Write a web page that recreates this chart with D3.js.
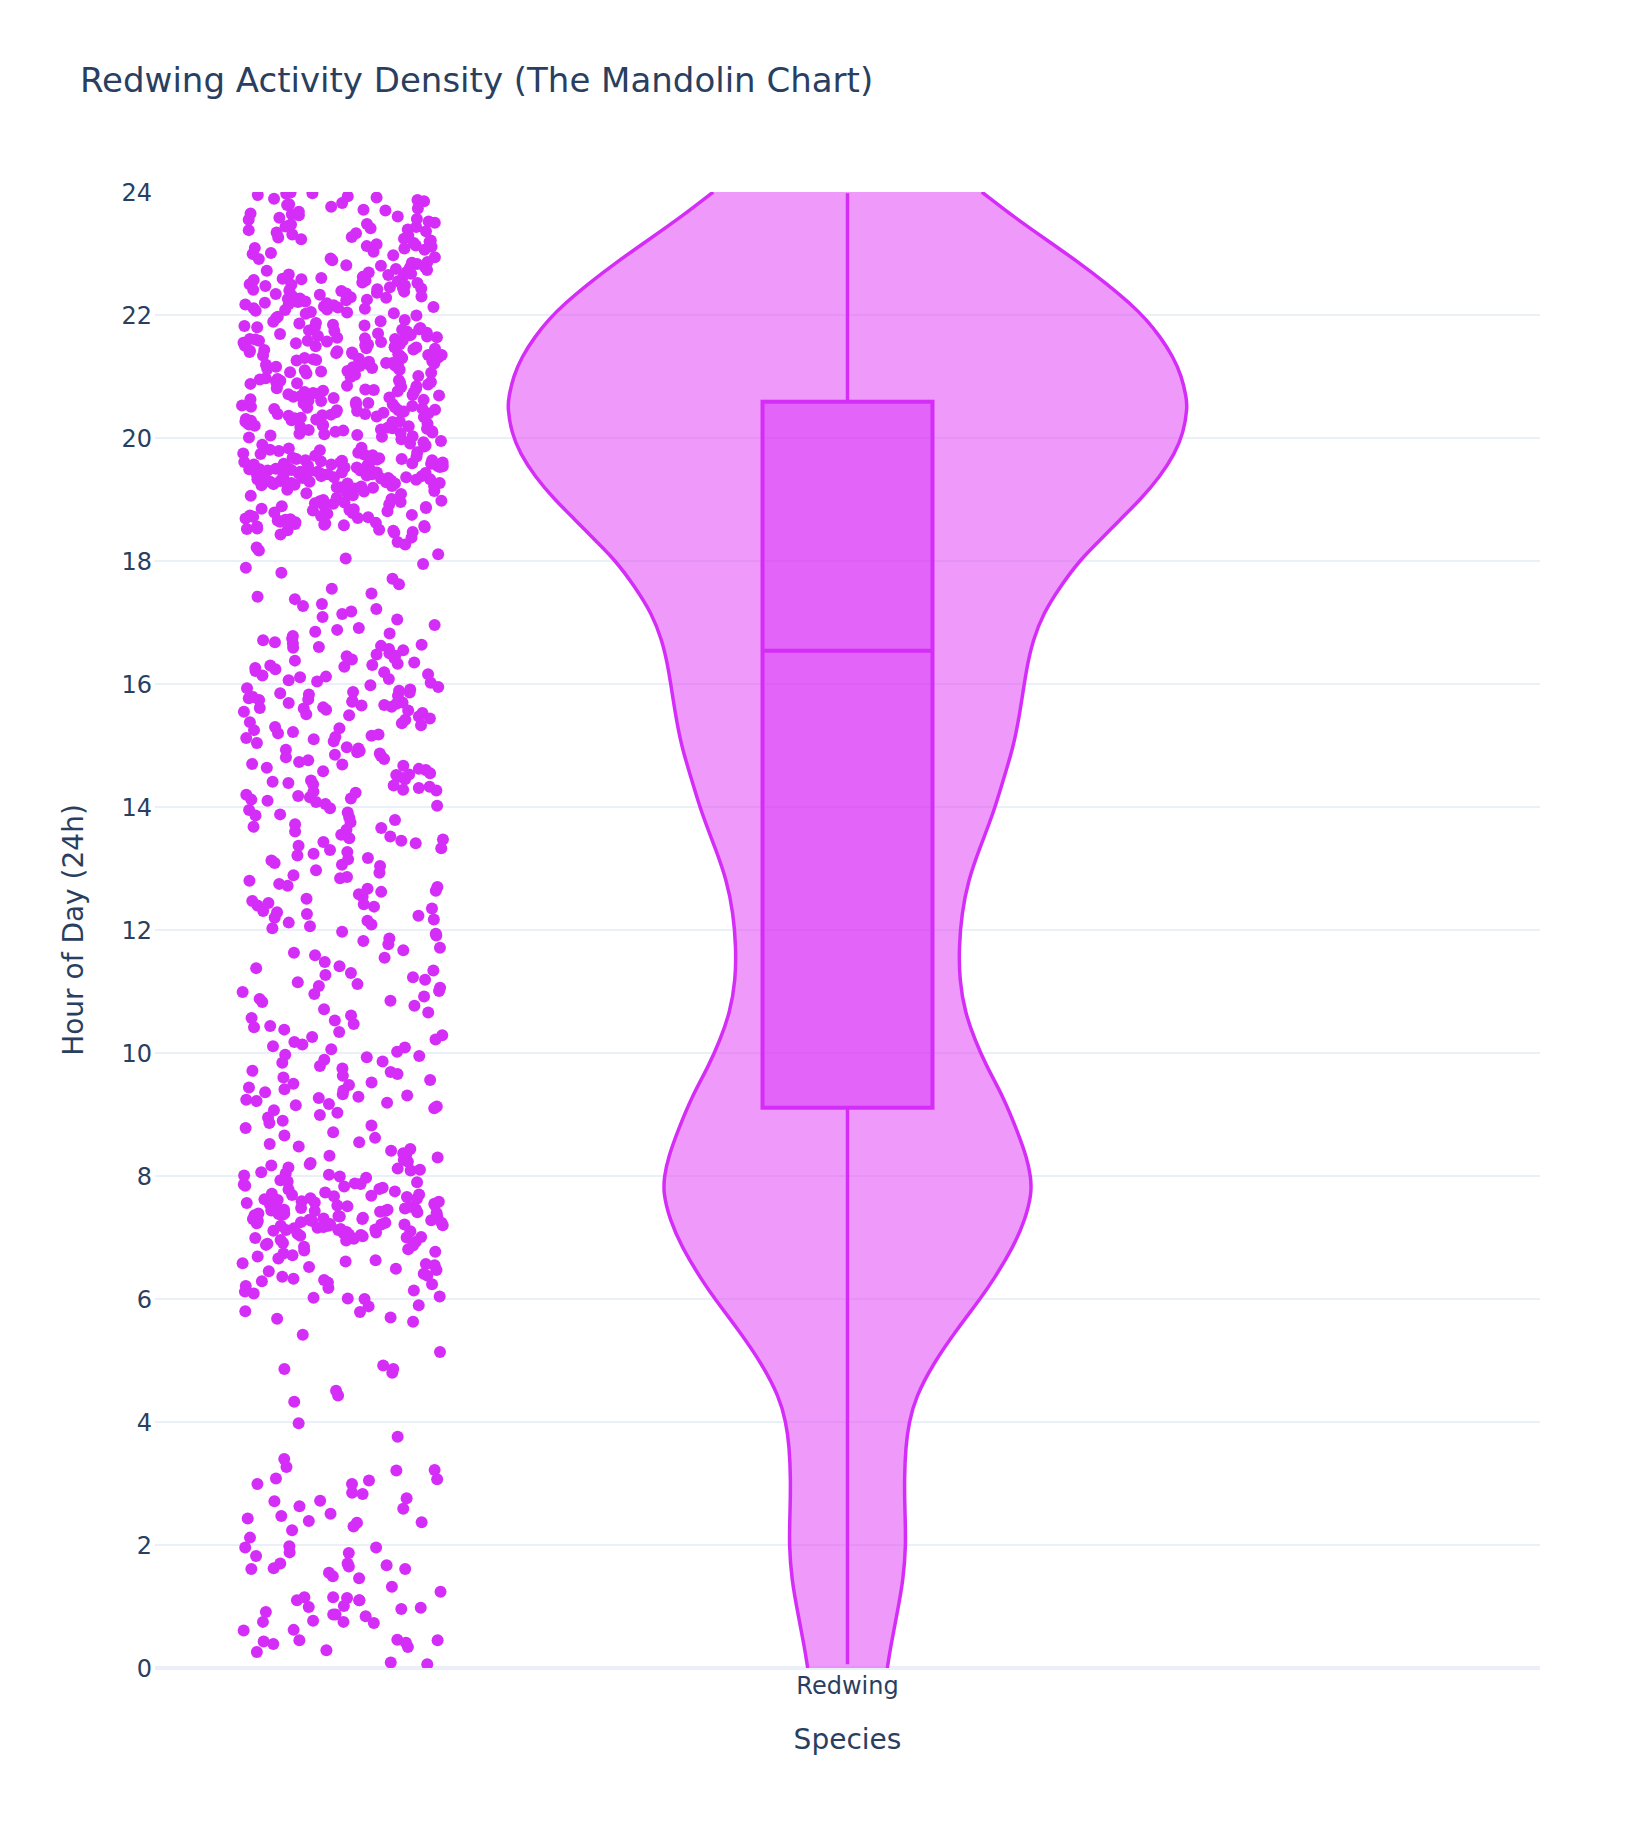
<!DOCTYPE html>
<html>
<head>
<meta charset="utf-8">
<script src="https://cdn.jsdelivr.net/npm/d3@7"></script>
<style>
html,body{margin:0;padding:0;background:#fff;}
svg{display:block;}
</style>
</head>
<body>
<div id="chart"></div>
<script>
// ---------------- DATA ----------------
const categories = ["Redwing"];
const yTicks = [0, 2, 4, 6, 8, 10, 12, 14, 16, 18, 20, 22, 24];

const hoursNight = [0.06,0.09,0.26,0.29,0.34,0.39,0.41,0.43,0.45,0.45,0.46,0.61,0.62,0.73,0.75,0.75,0.77,0.84,0.87,0.87,
0.91,0.96,0.98,0.99,1.01,1.1,1.1,1.1,1.14,1.15,1.15,1.24,1.32,1.46,1.49,1.55,1.61,1.61,1.62,1.65,
1.67,1.7,1.7,1.82,1.87,1.88,1.96,1.96,1.98,2.12,2.24,2.3,2.36,2.37,2.39,2.43,2.47,2.51,2.59,2.63,
2.71,2.72,2.76,2.83,2.85,2.99,2.99,3.05,3.07,3.08,3.21,3.22,3.27,3.4,3.76,3.98,
4.33,4.43,4.51,4.8,4.86,4.86,4.92,5.14,5.42,5.63,5.68,5.7,5.79,5.8,5.88,5.9,6.0,6.01];

const hoursMorning = [6.04,6.14,6.02,6.21,6.27,6.33,6.09,6.38,6.45,6.18,6.52,6.41,6.58,6.29,6.63,6.47,6.71,6.55,6.36,6.66,
6.77,6.12,6.49,6.24,6.74,6.61,6.69,6.31,6.57,6.79,
6.81,7.24,6.95,7.41,7.08,7.57,6.88,7.33,7.15,7.66,7.02,7.45,7.21,7.73,6.91,7.36,7.12,7.52,7.27,7.78,
6.98,7.39,7.18,7.61,7.05,7.47,7.3,7.69,6.85,7.25,7.43,7.1,7.55,7.34,7.01,7.49,7.2,7.64,7.13,7.37,
6.93,7.28,7.58,7.06,7.42,7.23,7.71,7.16,7.5,7.31,6.99,7.44,7.19,7.62,7.04,7.38,7.26,7.75,7.11,7.53,
7.32,6.9,7.46,7.22,7.67,7.07,7.4,7.29,7.59,7.14,7.35,6.96,7.48,7.17,7.7,7.03,7.43,7.24,7.56,7.09,
7.34,7.79,7.21,7.51,6.87,7.39,7.27,7.63,7.12,7.45,7.3,7.0,7.54,7.19,7.68,
7.81,8.12,7.93,8.35,7.86,8.04,8.48,7.97,8.21,8.62,7.84,8.09,8.3,7.91,8.17,8.55,7.88,8.01,8.41,8.26,
7.95,8.71,8.14,7.83,8.37,8.06,7.99,8.52,8.23,7.9,8.78,8.1,8.44,7.87,8.19,8.66,8.02,8.33,
8.82,9.31,8.95,9.52,9.13,8.86,9.44,9.22,9.71,8.9,9.36,9.15,9.6,9.03,9.27,9.79,9.19,8.99,9.48,9.33,
9.66,9.1,9.39,9.07,9.56,9.24,9.75,9.41,9.17,9.63,9.29,9.5,9.69,
9.84,10.26,9.97,10.53,10.11,9.89,10.42,10.18,10.71,9.93,10.34,10.06,10.61,10.22,9.86,10.47,10.14,10.77,10.02,10.38,
10.57,10.29,9.95,10.66,10.09,10.44,
10.83,11.27,10.96,11.55,11.12,10.88,11.41,11.19,11.71,10.92,11.34,11.06,11.63,11.23,10.85,11.48,11.15,11.77,11.01,11.38,
11.59,11.3,10.99,11.67,11.09,11.82,11.91,11.86,11.97,11.94];

const hoursAfternoon = [12.03,12.38,12.15,12.67,12.26,12.84,12.09,12.51,12.31,12.75,12.12,12.58,12.42,12.93,12.2,12.47,12.7,12.06,12.35,12.8,
12.23,12.62,12.44,12.89,12.17,12.54,12.72,12.29,12.97,12.4,12.64,12.86,
13.04,13.41,13.17,13.72,13.27,13.88,13.09,13.55,13.33,13.79,13.13,13.6,13.45,13.95,13.21,13.49,13.68,13.06,13.37,13.83,
13.24,13.63,13.47,13.91,13.15,13.52,13.75,13.3,13.98,13.43,13.66,13.86,
14.02,14.39,14.16,14.67,14.25,14.85,14.08,14.52,14.31,14.76,14.12,14.58,14.43,14.93,14.2,14.47,14.7,14.05,14.35,14.81,
14.23,14.62,14.45,14.89,14.14,14.55,14.73,14.28,14.97,14.41,14.64,14.87,14.1,14.49,14.78,14.33,14.6,14.91,14.18,14.53,
14.69,14.27,14.83,14.37,14.95,
15.04,15.42,15.18,15.66,15.28,15.83,15.1,15.55,15.33,15.74,15.14,15.6,15.47,15.91,15.22,15.51,15.7,15.07,15.38,15.79,
15.25,15.63,15.49,15.87,15.16,15.57,15.72,15.3,15.95,15.44,15.68,15.85,15.12,15.53,15.77,15.36,15.61,15.93,15.2,15.58,
15.71,15.65,15.81,15.89,15.98,15.75,15.62,15.86,15.69,
16.02,16.31,16.11,16.45,16.19,16.06,16.38,16.24,16.5,16.14,16.28,16.42,16.08,16.35,16.21,16.48,16.16,16.33,16.04,16.4,
16.26,16.12,16.46,16.3,16.57,16.71,16.62,16.85,16.66,16.96,16.59,16.78,16.64,16.91,16.55,16.74,16.68,16.82,16.6,16.88,
17.05,17.38,17.14,17.62,17.22,17.81,17.09,17.47,17.3,17.71,17.18,17.55,17.42,17.89,17.27,17.95];

const hoursEvening = [18.04,18.27,18.11,18.43,18.17,18.38,18.22,18.31,
18.52,18.47,18.61,18.58,18.49,18.73,18.66,18.55,18.81,18.69,18.93,18.77,18.5,18.86,18.63,18.97,18.71,18.56,18.9,18.84,18.6,18.79,
18.99,18.68,18.53,18.88,18.75,18.95,18.64,18.82,18.46,18.92,18.7,18.57,18.85,18.98,18.62,18.74,18.89,18.51,18.78,18.94,
18.67,18.83,18.59,18.96,18.72,
19.03,19.41,19.18,19.66,19.27,19.52,19.09,19.74,19.35,19.58,19.22,19.47,19.81,19.31,19.62,19.14,19.44,19.7,19.26,19.55,
19.38,19.91,19.2,19.49,19.77,19.33,19.6,19.06,19.42,19.68,19.29,19.53,19.86,19.24,19.46,19.72,19.37,19.57,19.12,19.4,
19.64,19.3,19.5,19.95,19.21,19.45,19.79,19.34,19.59,19.16,19.43,19.67,19.28,19.54,19.84,19.36,19.61,19.23,19.48,19.73,
19.32,19.56,19.1,19.39,19.65,19.25,19.51,19.88,19.19,19.44,19.71,19.35,19.58,19.01,19.42,19.63,19.27,19.53,19.98,19.22,
19.47,19.76,19.31,19.6,19.15,19.38,19.69,19.29,19.55,19.83,19.33,19.5,19.07,19.45,19.66,19.24,19.52,19.93,19.36,19.57,
19.2,19.41,19.75,19.3,19.62,19.13,19.46,19.8,19.39,19.54,19.26,19.49,19.89,19.34,19.64,
20.02,20.31,20.14,20.48,20.23,20.55,20.07,20.39,20.19,20.44,20.11,20.35,20.27,20.52,20.04,20.41,20.17,20.57,20.29,20.09,
20.46,20.21,20.37,20.13,20.5,20.25,20.33,20.06,20.43,20.16,20.54,20.28,20.38,20.01,20.47,20.2,20.32,20.1,20.58,20.24,
20.4,20.15,20.51,20.3,20.05,20.45,20.22,20.36,20.12,20.53,20.26,20.42,20.08,20.49,20.18,20.34,20.56,20.03,20.39,20.27,
20.45,20.2,
20.61,20.84,20.67,20.92,20.73,20.63,20.88,20.7,20.96,20.77,20.65,20.81,20.99,20.69,20.86,20.75,20.62,20.9,20.79,20.66,
20.94,20.72,20.83,20.6,20.97,20.74,20.87,20.68,20.8,20.91,20.64,20.78,20.95,20.71,20.85,20.76,20.89,20.93,
21.03,21.37,21.15,21.62,21.24,21.81,21.08,21.49,21.29,21.71,21.12,21.55,21.33,21.92,21.19,21.44,21.66,21.05,21.38,21.77,
21.22,21.58,21.31,21.86,21.14,21.47,21.69,21.27,21.52,21.95,21.09,21.41,21.74,21.2,21.6,21.35,21.83,21.17,21.5,21.64,
21.01,21.43,21.79,21.26,21.56,21.89,21.11,21.39,21.68,21.23,21.53,21.97,21.3,21.61,21.07,21.46,21.73,21.18,21.57,21.84,
21.34,21.65,21.13,21.42,21.76,21.25,21.51,21.9,21.36,21.63,21.04,21.45,21.8,21.21,21.59,21.32,21.7,21.16,21.48,21.87,
21.28,21.54,21.99,21.1,21.4,21.67,21.22,21.58,21.82,21.35,21.06,21.47,21.75,21.3,21.61,
22.02,22.36,22.14,22.61,22.25,22.83,22.08,22.47,22.3,22.72,22.11,22.55,22.38,22.94,22.19,22.43,22.67,22.05,22.33,22.78,
22.22,22.58,22.41,22.89,22.16,22.5,22.7,22.27,22.53,22.97,22.1,22.45,22.64,22.21,22.86,22.34,22.59,22.04,22.49,22.75,
22.28,22.62,22.13,22.39,22.81,22.24,22.56,22.91,22.18,22.44,22.69,22.07,22.31,22.77,22.52,22.99,22.26,22.65,22.12,22.4,
22.85,22.2,22.57,22.73,22.35,22.03,22.48,22.92,22.29,22.6,22.17,22.8,22.42,22.66,22.09,
23.03,23.41,23.17,23.68,23.26,23.87,23.09,23.52,23.33,23.76,23.13,23.58,23.38,23.95,23.21,23.46,23.71,23.06,23.36,23.82,
23.24,23.6,23.44,23.91,23.15,23.5,23.73,23.29,23.55,23.98,23.11,23.48,23.65,23.19,23.89,23.31,23.62,23.01,23.43,23.79,
23.27,23.64,23.12,23.39,23.85,23.23,23.56,23.93,23.34,23.7,23.08,23.47,23.8,23.99,23.97];

// Violin density profile (relative KDE)
const densityHours = [24.0,23.6,23.22,22.84,22.51,22.19,21.92,21.65,21.32,21.0,20.67,20.5,20.08,19.75,19.37,18.99,18.67,18.34,18.02,17.58,
17.15,16.72,16.28,15.52,14.98,14.44,13.9,13.35,12.81,12.27,11.73,11.19,10.65,10.21,9.78,9.29,8.75,8.31,7.99,7.72,
7.28,6.85,6.31,6.0,5.5,4.95,4.41,4.0,3.6,3.06,2.52,2.0,1.43,0.89,0.35,0.0];
const densityValues = [0.395,0.488,0.586,0.684,0.762,0.831,0.88,0.919,0.958,0.983,0.996,1.0,0.988,0.963,0.919,0.86,0.801,0.743,0.684,0.625,
0.576,0.546,0.527,0.507,0.488,0.458,0.429,0.39,0.355,0.336,0.328,0.329,0.346,0.375,0.409,0.458,0.498,0.527,0.539,0.542,
0.522,0.488,0.429,0.39,0.321,0.252,0.201,0.181,0.171,0.167,0.169,0.172,0.164,0.146,0.127,0.117];

// Box statistics
const boxKeys = ["min", "q1", "median", "q3", "max"];
const boxValues = [0.06, 9.11, 16.54, 20.59, 23.98];

// ---------------- LAYOUT ----------------
const W = 1642, H = 1826;
const margin = {left: 155, right: 102, top: 192, bottom: 158};
const plotL = margin.left, plotR = W - margin.right, plotT = margin.top, plotB = H - margin.bottom;
const mainColor = "rgb(213,45,248)";
const violinFill = "rgba(223,54,245,0.5)";
const boxFill = "rgba(213,45,248,0.5)";
const textColor = "#2a3f5f";
const gridColor = "#EBF0F8";
const fontFamily = "'DejaVu Sans', Verdana, sans-serif";

const svg = d3.select("#chart").append("svg")
  .attr("width", W).attr("height", H)
  .style("font-family", fontFamily);

svg.append("rect").attr("width", W).attr("height", H).attr("fill", "#fff");

const x = d3.scaleBand().domain(categories).range([plotL, plotR]).padding(0);
const y = d3.scaleLinear().domain([0, 24]).range([plotB, plotT]);
const cx = x(categories[0]) + x.bandwidth() / 2;

const defs = svg.append("defs");
defs.append("clipPath").attr("id", "plotclip")
  .append("rect").attr("x", plotL).attr("y", plotT)
  .attr("width", plotR - plotL).attr("height", plotB - plotT);

// Gridlines
svg.append("g").selectAll("line")
  .data(yTicks.filter(t => t > 0 && t < 24))
  .join("line")
  .attr("x1", plotL).attr("x2", plotR)
  .attr("y1", d => y(d)).attr("y2", d => y(d))
  .attr("stroke", gridColor).attr("stroke-width", 2);

// Zero line
svg.append("line")
  .attr("x1", plotL).attr("x2", plotR)
  .attr("y1", y(0)).attr("y2", y(0))
  .attr("stroke", gridColor).attr("stroke-width", 4);

// Y tick labels
svg.append("g").selectAll("text")
  .data(yTicks).join("text")
  .attr("x", plotL - 3).attr("y", d => y(d))
  .attr("dy", "0.36em")
  .attr("text-anchor", "end")
  .attr("font-size", 24)
  .attr("fill", textColor)
  .text(d => d);

// X tick label
svg.append("g").selectAll("text")
  .data(categories).join("text")
  .attr("x", d => x(d) + x.bandwidth() / 2).attr("y", 1694)
  .attr("text-anchor", "middle")
  .attr("font-size", 24)
  .attr("fill", textColor)
  .text(d => d);

// Axis titles
svg.append("text")
  .attr("x", (plotL + plotR) / 2).attr("y", 1749)
  .attr("text-anchor", "middle").attr("font-size", 28).attr("fill", textColor)
  .text("Species");

svg.append("text")
  .attr("transform", `translate(83,${(plotT + plotB) / 2}) rotate(-90)`)
  .attr("text-anchor", "middle").attr("font-size", 28).attr("fill", textColor)
  .text("Hour of Day (24h)");

// Title
svg.append("text")
  .attr("x", 80).attr("y", 92)
  .attr("font-size", 34).attr("fill", textColor)
  .text("Redwing Activity Density (The Mandolin Chart)");

// ---------------- VIOLIN ----------------
const plotG = svg.append("g").attr("clip-path", "url(#plotclip)");
const violinHalf = d3.scaleLinear().domain([0, 1]).range([0, 340]);
const profile = densityHours.map((h, i) => ({h, d: densityValues[i]}));
const curve = d3.curveBasis;

plotG.append("path")
  .datum(profile)
  .attr("d", d3.area().curve(curve)
    .y(d => y(d.h))
    .x0(d => cx - violinHalf(d.d))
    .x1(d => cx + violinHalf(d.d)))
  .attr("fill", violinFill).attr("stroke", "none");

[-1, 1].forEach(side => {
  plotG.append("path")
    .datum(profile)
    .attr("d", d3.line().curve(curve)
      .y(d => y(d.h))
      .x(d => cx + side * violinHalf(d.d)))
    .attr("fill", "none").attr("stroke", mainColor).attr("stroke-width", 3.5);
});

// Inner box
const bs = {};
boxKeys.forEach((k, i) => bs[k] = boxValues[i]);
const boxHalf = 85;

plotG.append("line")
  .attr("x1", cx).attr("x2", cx)
  .attr("y1", y(bs.min)).attr("y2", y(bs.q1))
  .attr("stroke", mainColor).attr("stroke-width", 3.5);
plotG.append("line")
  .attr("x1", cx).attr("x2", cx)
  .attr("y1", y(bs.q3)).attr("y2", y(bs.max))
  .attr("stroke", mainColor).attr("stroke-width", 3.5);

plotG.append("rect")
  .attr("x", cx - boxHalf).attr("width", 2 * boxHalf)
  .attr("y", y(bs.q3)).attr("height", y(bs.q1) - y(bs.q3))
  .attr("fill", boxFill).attr("stroke", mainColor).attr("stroke-width", 4);

plotG.append("line")
  .attr("x1", cx - boxHalf).attr("x2", cx + boxHalf)
  .attr("y1", y(bs.median)).attr("y2", y(bs.median))
  .attr("stroke", mainColor).attr("stroke-width", 4);

// ---------------- POINTS ----------------
const allHours = hoursNight.concat(hoursMorning, hoursAfternoon, hoursEvening);
const pointCenter = cx - 505;
const jitterX = d3.scaleLinear().domain([-1, 1]).range([pointCenter - 100.5, pointCenter + 100.5]);
// deterministic hash-based jitter (layout only, like plotly's seeded jitter)
const jitterOf = i => {
  const s = Math.sin(i * 78.233 + 12.9898) * 43758.5453;
  return (s - Math.floor(s)) * 2 - 1;
};

plotG.append("g").selectAll("circle")
  .data(allHours).join("circle")
  .attr("cx", (d, i) => jitterX(jitterOf(i)))
  .attr("cy", d => y(d))
  .attr("r", 6)
  .attr("fill", mainColor);
</script>
</body>
</html>
